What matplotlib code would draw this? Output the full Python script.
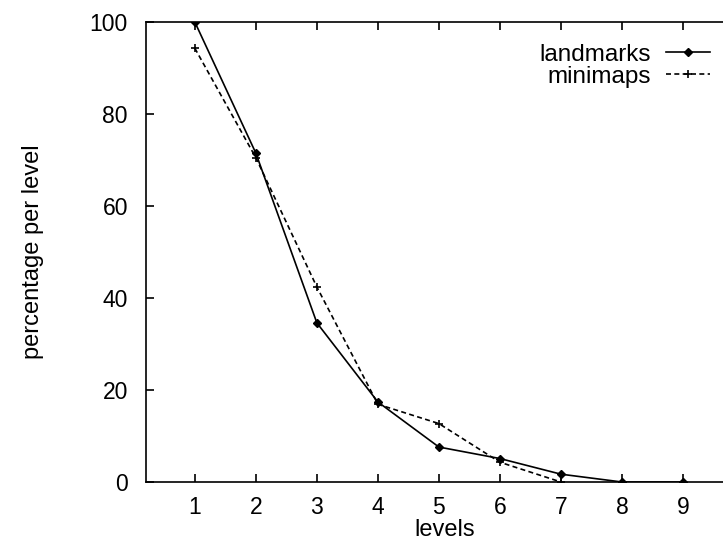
import matplotlib
matplotlib.use("Agg")
import matplotlib.pyplot as plt

plt.rcParams['font.family'] = ['Liberation Sans', 'DejaVu Sans']

levels = [1, 2, 3, 4, 5, 6, 7, 8, 9]
landmarks = [100, 71.5, 34.6, 17.4, 7.6, 5.1, 1.7, 0, 0]

levels_mm = [1, 2, 3, 4, 5, 6, 7]
minimaps = [94.3, 70.5, 42.4, 16.9, 12.7, 4.3, 0]

fig = plt.figure(figsize=(7.23, 5.41), dpi=100)
# axes goes a bit past the right edge, like the scanned original
ax = fig.add_axes([146/723, (541-482)/541, 598/723, 460/541])

ax.plot(levels, landmarks, color="black", linewidth=1.2, linestyle="solid",
        marker="D", ms=4, mfc="black", label="landmarks")
ax.plot(levels_mm, minimaps, color="black", linewidth=1.2, linestyle=(0, (3, 2)),
        marker="+", ms=6, mew=1.2, label="minimaps")

ax.set_xlim(0.2, 10.0)
ax.set_ylim(0, 100)
ax.set_xticks(levels)
ax.set_yticks([0, 20, 40, 60, 80, 100])
ax.tick_params(direction="in", length=6, width=1.2, labelsize=16.5,
               top=True, right=False, pad=10)
ax.tick_params(axis="y", pad=13)
for s in ax.spines.values():
    s.set_linewidth(1.2)

ax.set_xlabel("levels", fontsize=17, labelpad=0)
ax.set_ylabel("percentage per level", fontsize=17, labelpad=33)

leg = ax.legend(loc="upper right", bbox_to_anchor=(0.98, 1.0), frameon=False,
                fontsize=17.5, markerfirst=False, handlelength=1.8,
                handletextpad=0.65, labelspacing=0.0)
for t in leg.get_texts():
    t.set_ha("right")

fig.savefig("out.png", dpi=100)
